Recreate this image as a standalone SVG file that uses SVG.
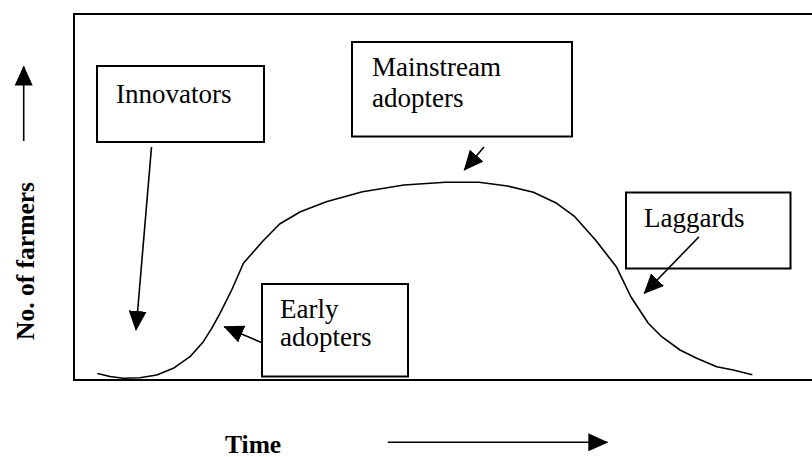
<svg xmlns="http://www.w3.org/2000/svg" width="812" height="457" viewBox="0 0 812 457">
<style>
.box{fill:#fff;stroke:#000;stroke-width:2}
text{font-family:"Liberation Serif","Times New Roman",Times,serif}
.lbl{font-size:27px;fill:#000}
.axis{font-size:25.5px;font-weight:bold;fill:#000}
.conn{fill:none;stroke:#000;stroke-width:1.6}
.curve{fill:none;stroke:#000;stroke-width:1.6;stroke-linejoin:round}
</style>
<defs>
<marker id="ah" viewBox="0 0 20 18" refX="19" refY="9" markerWidth="20" markerHeight="18" markerUnits="userSpaceOnUse" orient="auto">
<path d="M0,0 L20,9 L0,18 z" fill="#000"/>
</marker>
</defs>
<rect width="812" height="457" fill="#fff"/>
<g id="frame">
<rect x="74" y="14" width="760" height="366" fill="none" stroke="#000" stroke-width="2"/>
</g>
<g id="curve">
<polyline class="curve" points="97.4,373.5 110,376.5 123.3,378.3 140,377.7 156.7,375 173.3,368.3 190,356.7 203.3,341.7 211.7,328.3 220,313.3 231.7,290 243.4,263.3 262,242 279.6,224 300.4,211.7 326.3,201.7 362.5,191.7 404,185 445.4,182.3 479,182.3 507.5,186 533.4,192.3 556.7,203.3 574.8,216.7 595.5,240 616.3,266.7 631,297 648.3,323.3 661.7,336.7 680,350 696.7,358.3 716.7,366.7 733.3,370 752.3,374.7"/>
</g>
<g id="innovators">
<rect class="box" x="97" y="66" width="167" height="76"/>
<text class="lbl" x="116" y="103">Innovators</text>
</g>
<g id="mainstream">
<rect class="box" x="352" y="42" width="220" height="94.5"/>
<text class="lbl" x="372" y="75.5">Mainstream</text>
<text class="lbl" x="372" y="107">adopters</text>
</g>
<g id="laggards">
<rect class="box" x="626" y="192.5" width="164.5" height="76"/>
<text class="lbl" x="644" y="226.5">Laggards</text>
</g>
<g id="early">
<rect class="box" x="262" y="284" width="146" height="92.5"/>
<text class="lbl" x="280" y="318">Early</text>
<text class="lbl" x="280" y="346">adopters</text>
</g>
<g id="connectors">
<line class="conn" x1="151.5" y1="147" x2="136" y2="330" marker-end="url(#ah)"/>
<line class="conn" x1="484" y1="147" x2="464.3" y2="170" marker-end="url(#ah)"/>
<line class="conn" x1="699" y1="236.7" x2="644.3" y2="293.3" marker-end="url(#ah)"/>
<line class="conn" x1="262" y1="342.7" x2="224.3" y2="326.7" marker-end="url(#ah)"/>
</g>
<g id="y-axis">
<line class="conn" x1="23.7" y1="141" x2="23.7" y2="66.5" marker-end="url(#ah)"/>
<text class="axis" transform="translate(33.5,261) rotate(-90)" text-anchor="middle">No. of farmers</text>
</g>
<g id="x-axis">
<text class="axis" x="225" y="452.5">Time</text>
<line class="conn" x1="387.7" y1="442.3" x2="607.3" y2="442.3" marker-end="url(#ah)"/>
</g>
</svg>
